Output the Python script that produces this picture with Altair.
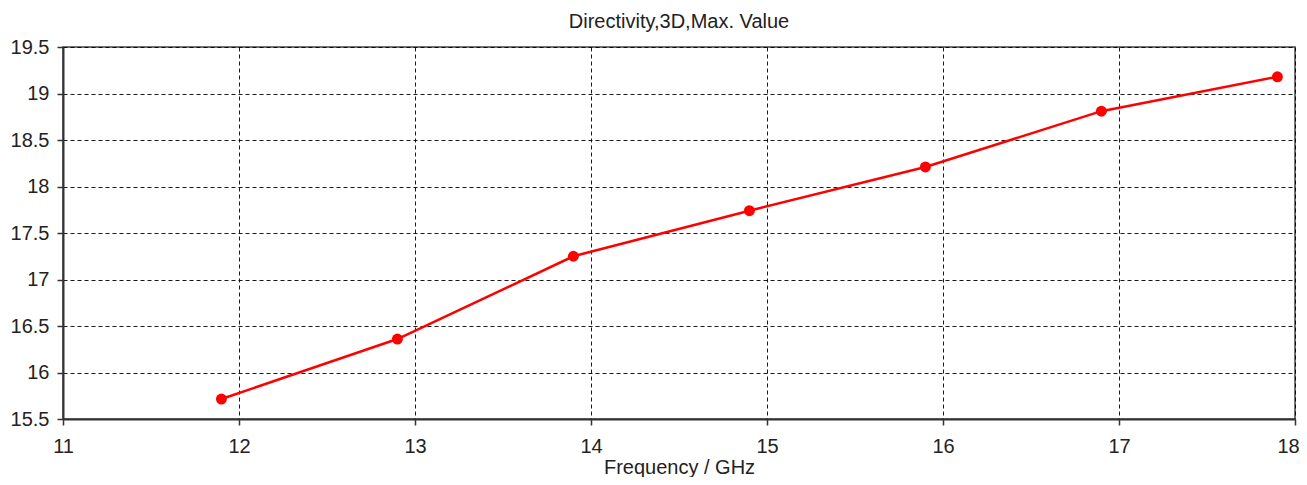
import altair as alt
import pandas as pd

freq = [11.9, 12.9, 13.9, 14.9, 15.9, 16.9, 17.9]
directivity = [15.715, 16.36, 17.25, 17.74, 18.21, 18.81, 19.18]
x_ticks = [11, 12, 13, 14, 15, 16, 17, 18]
y_ticks = [15.5, 16, 16.5, 17, 17.5, 18, 18.5, 19, 19.5]

df = pd.DataFrame({"f": freq, "d": directivity})

FONT = "Liberation Sans"

x = alt.X("f:Q", scale=alt.Scale(domain=[11, 18], nice=False, zero=False),
          axis=alt.Axis(values=x_ticks, title="Frequency / GHz", format="d",
                        labelFlush=False,
                        labelOffset={"condition": {"test": "datum.value == 18", "value": -7},
                                     "value": 0}))
y = alt.Y("d:Q", scale=alt.Scale(domain=[15.5, 19.5], nice=False, zero=False),
          axis=alt.Axis(values=y_ticks, title=None, format=".1~f", labelFlush=False))

line = alt.Chart(df).mark_line(color="#ff0000", strokeWidth=2.5).encode(x=x, y=y)
pts = alt.Chart(df).mark_circle(color="#ff0000", size=120, opacity=1).encode(x=x, y=y)

chart = (line + pts).properties(
    width=1232, height=372,
    title=alt.TitleParams("Directivity,3D,Max. Value", font=FONT, fontSize=20,
                          fontWeight="normal", color="#222222", offset=5),
    autosize=alt.AutoSizeParams(type="none"),
    padding={"left": 55, "top": 39, "right": 4, "bottom": 58},
).configure_view(stroke="#444444", strokeWidth=1.5).configure_axis(
    grid=True, gridColor="#000000", gridDash=[4, 3], gridOpacity=0.9, gridWidth=1,
    domainColor="#333333", domainWidth=2,
    tickColor="#333333", tickSize=6, tickWidth=1.5,
    labelFont=FONT, labelFontSize=20, labelColor="#222222",
    titleFont=FONT, titleFontSize=20, titleFontWeight="normal", titleColor="#222222",
).configure_axisY(labelPadding=8).configure_axisX(labelPadding=11, titlePadding=1)

chart.save("out.html", embed_options={"renderer": "svg", "actions": False})
